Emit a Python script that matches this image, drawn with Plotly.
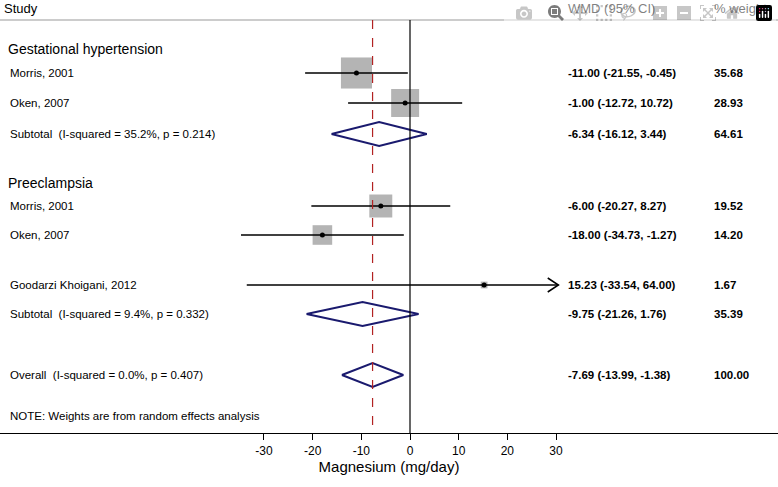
import plotly.graph_objects as go

W, H = 778, 487
studies = ["Morris, 2001", "Oken, 2007", "Subtotal  (I-squared = 35.2%, p = 0.214)",
           "Morris, 2001", "Oken, 2007", "Goodarzi Khoigani, 2012",
           "Subtotal  (I-squared = 9.4%, p = 0.332)", "Overall  (I-squared = 0.0%, p = 0.407)"]
est = [-11.00, -1.00, -6.34, -6.00, -18.00, 15.23, -9.75, -7.69]
lo = [-21.55, -12.72, -16.12, -20.27, -34.73, -33.54, -21.26, -13.99]
hi = [-0.45, 10.72, 3.44, 8.27, -1.27, 64.00, 1.76, -1.38]
weights = [35.68, 28.93, 64.61, 19.52, 14.20, 1.67, 35.39, 100.00]
is_pooled = [False, False, True, False, False, False, True, True]
row_y = [73, 103, 134, 206, 235, 285, 314, 375]
groups = ["Gestational hypertension", "Preeclampsia"]
group_y = [49, 183]
xticks = [-30, -20, -10, 0, 10, 20, 30]
xticklabels = ["-30", "-20", "-10", "0", "10", "20", "30"]
overall = -7.69

X0PX, PXU = 410, 4.867
xmin, xmax = (0 - X0PX) / PXU, (W - X0PX) / PXU
clip = 30.5

fig = go.Figure()
shapes, ann = [], []
font = "Liberation Sans, Arial"

for i in range(len(est)):
    y = row_y[i]
    if is_pooled[i]:
        hh = 12
        fig.add_trace(go.Scatter(x=[lo[i], est[i], hi[i], est[i], lo[i]], y=[y, y - hh, y, y + hh, y],
                                 mode="lines", line=dict(color="#1a1a6e", width=2), hoverinfo="skip"))
    else:
        side = 5.2 * (weights[i] ** 0.5)
        hx = side / 2 / PXU
        shapes.append(dict(type="rect", xref="x", yref="y", x0=est[i] - hx, x1=est[i] + hx,
                           y0=y - side / 2, y1=y + side / 2, fillcolor="#b4b4b4", line=dict(width=0),
                           layer="below"))
        h = min(hi[i], clip)
        fig.add_trace(go.Scatter(x=[lo[i], h], y=[y, y], mode="lines", line=dict(color="black", width=1.5),
                                 hoverinfo="skip"))
        fig.add_trace(go.Scatter(x=[est[i]], y=[y], mode="markers", marker=dict(color="black", size=5),
                                 hoverinfo="skip"))
        if hi[i] > clip:
            d = 2.2
            fig.add_trace(go.Scatter(x=[h - d, h, h - d], y=[y - 7, y, y + 7], mode="lines",
                                     line=dict(color="black", width=1.5), hoverinfo="skip"))
    ann.append(dict(x=8 / W, y=y, xref="paper", yref="y", xanchor="left", showarrow=False,
                    text=studies[i], font=dict(size=11.5, family=font, color="black")))
    ann.append(dict(x=566 / W, y=y, xref="paper", yref="y", xanchor="left", showarrow=False,
                    text="<b>%.2f (%.2f, %.2f)</b>" % (est[i], lo[i], hi[i]),
                    font=dict(size=11.5, family=font, color="black")))
    ann.append(dict(x=712 / W, y=y, xref="paper", yref="y", xanchor="left", showarrow=False,
                    text="<b>%.2f</b>" % weights[i], font=dict(size=11.5, family=font, color="black")))

for g, gy in zip(groups, group_y):
    ann.append(dict(x=6 / W, y=gy, xref="paper", yref="y", xanchor="left", showarrow=False,
                    text=g, font=dict(size=14, family=font, color="black")))

for t, px in [("Study", 2), ("WMD (95% CI)", 566), ("% weight", 712)]:
    ann.append(dict(x=px / W, y=8, xref="paper", yref="y", xanchor="left", showarrow=False,
                    text=t, font=dict(size=13, family=font, color="black")))
ann.append(dict(x=8 / W, y=416, xref="paper", yref="y", xanchor="left", showarrow=False,
                text="NOTE: Weights are from random effects analysis", font=dict(size=11.5, family=font, color="black")))

shapes.append(dict(type="line", xref="paper", yref="y", x0=0, x1=1, y0=20, y1=20, line=dict(color="#bbbbbb", width=1.5)))
shapes.append(dict(type="line", xref="x", yref="y", x0=0, x1=0, y0=20, y1=433, line=dict(color="black", width=1.2)))
shapes.append(dict(type="line", xref="x", yref="y", x0=overall, x1=overall, y0=20, y1=433,
                   line=dict(color="#b22222", width=1.2, dash="dash")))

fig.update_layout(
    width=W, height=H, margin=dict(l=0, r=0, t=0, b=0), showlegend=False,
    plot_bgcolor="white", paper_bgcolor="white", shapes=shapes, annotations=ann,
    xaxis=dict(range=[xmin, xmax], tickvals=xticks, ticktext=xticklabels, ticks="outside", ticklen=6,
               tickcolor="black", showline=True, linecolor="black", linewidth=1.2, showgrid=False,
               zeroline=False, tickfont=dict(size=12, family=font, color="black"),
               title=dict(text="Magnesium (mg/day)", font=dict(size=15, family=font, color="black"), standoff=4)),
    yaxis=dict(range=[433, 0], domain=[(H - 433) / H, 1], visible=False, showgrid=False),
)
fig.write_html("out.html", post_script="document.body.style.margin='0';document.body.style.overflow='hidden';")
